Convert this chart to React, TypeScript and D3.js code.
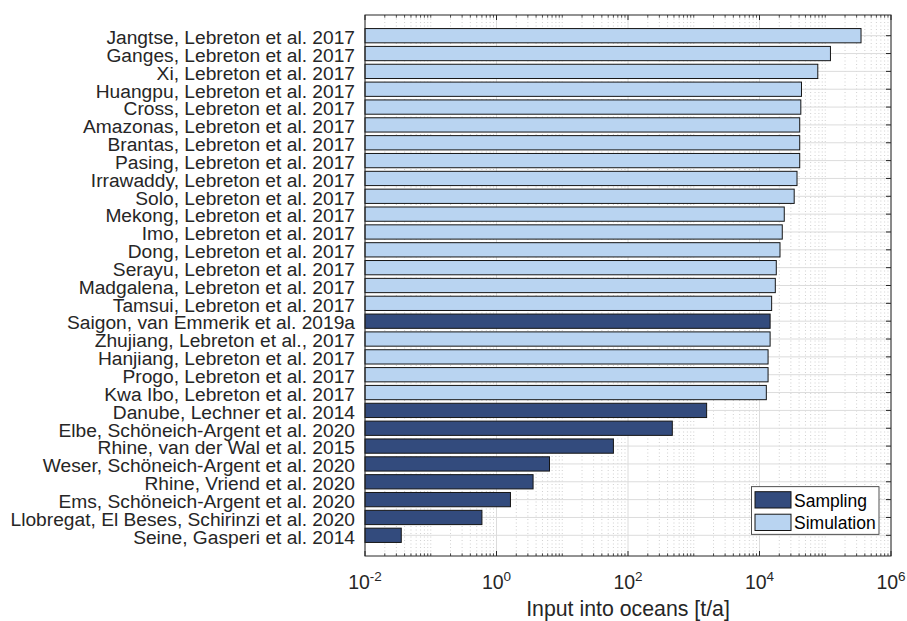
import * as d3 from 'd3';
import React from 'react';

// river / study, top to bottom
const rivers = [
  'Jangtse, Lebreton et al. 2017',
  'Ganges, Lebreton et al. 2017',
  'Xi, Lebreton et al. 2017',
  'Huangpu, Lebreton et al. 2017',
  'Cross, Lebreton et al. 2017',
  'Amazonas, Lebreton et al. 2017',
  'Brantas, Lebreton et al. 2017',
  'Pasing, Lebreton et al. 2017',
  'Irrawaddy, Lebreton et al. 2017',
  'Solo, Lebreton et al. 2017',
  'Mekong, Lebreton et al. 2017',
  'Imo, Lebreton et al. 2017',
  'Dong, Lebreton et al. 2017',
  'Serayu, Lebreton et al. 2017',
  'Madgalena, Lebreton et al. 2017',
  'Tamsui, Lebreton et al. 2017',
  'Saigon, van Emmerik et al. 2019a',
  'Zhujiang, Lebreton et al., 2017',
  'Hanjiang, Lebreton et al. 2017',
  'Progo, Lebreton et al. 2017',
  'Kwa Ibo, Lebreton et al. 2017',
  'Danube, Lechner et al. 2014',
  'Elbe, Schöneich-Argent et al. 2020',
  'Rhine, van der Wal et al. 2015',
  'Weser, Schöneich-Argent et al. 2020',
  'Rhine, Vriend et al. 2020',
  'Ems, Schöneich-Argent et al. 2020',
  'Llobregat, El Beses, Schirinzi et al. 2020',
  'Seine, Gasperi et al. 2014',
];

// input into oceans [t/a]
const inputs = [
  350000, 120000, 77000, 43500, 42500, 40900, 40900, 40900, 37200, 33700,
  23800, 22200, 20500, 18000, 17400, 15300, 14500, 14500, 13500, 13500,
  12700, 1570, 472, 60, 6.4, 3.6, 1.63, 0.6, 0.0356,
];

const methods = [
  'Simulation', 'Simulation', 'Simulation', 'Simulation', 'Simulation',
  'Simulation', 'Simulation', 'Simulation', 'Simulation', 'Simulation',
  'Simulation', 'Simulation', 'Simulation', 'Simulation', 'Simulation',
  'Simulation', 'Sampling', 'Simulation', 'Simulation', 'Simulation',
  'Simulation', 'Sampling', 'Sampling', 'Sampling', 'Sampling',
  'Sampling', 'Sampling', 'Sampling', 'Sampling',
];

const legendItems = ['Sampling', 'Simulation'];
const labelledPowers = [-2, 0, 2, 4, 6];

const W = 907;
const H = 621;
const left = 365;
const right = 891;
const top = 15;
const bottom = 556;

const FONT = '"Liberation Sans", Arial, Helvetica, sans-serif';
const INK = '#262626';
const fills: Record<string, string> = { Sampling: '#334b7d', Simulation: '#b9d4f1' };

export default function App() {
  const x = d3.scaleLog().domain([1e-2, 1e6]).range([left, right]);
  const y = d3
    .scaleBand<string>()
    .domain(rivers)
    .range([top, bottom])
    .paddingInner(0.2)
    .paddingOuter(0.76);
  const bw = y.bandwidth();
  const cy = (name: string) => (y(name) ?? 0) + bw / 2;

  const majors = labelledPowers.map((p) => Math.pow(10, p));
  const minors = d3
    .range(-2, 6)
    .flatMap((p) => d3.range(1, 10).map((k) => k * Math.pow(10, p)))
    .filter((v) => !majors.some((m) => Math.abs(m - v) / m < 1e-9));

  return (
    <svg
      width={W}
      height={H}
      style={{ position: 'absolute', left: 0, top: 0, background: '#fff' }}
      fontFamily={FONT}
    >
      <rect x={0} y={0} width={W} height={H} fill="#fff" />

      {/* grid */}
      {minors.map((v, i) => (
        <line
          key={'mg' + i}
          x1={x(v)}
          x2={x(v)}
          y1={top}
          y2={bottom}
          stroke="#c4c4c4"
          strokeWidth={0.8}
          strokeDasharray="1 2.5"
        />
      ))}
      {majors.map((v, i) => (
        <line key={'g' + i} x1={x(v)} x2={x(v)} y1={top} y2={bottom} stroke="#dcdcdc" strokeWidth={1} />
      ))}
      {rivers.map((r) => (
        <line key={'hg' + r} x1={left} x2={right} y1={cy(r)} y2={cy(r)} stroke="#dcdcdc" strokeWidth={1} />
      ))}

      {/* ticks */}
      {majors.map((v, i) => (
        <g key={'t' + i} stroke={INK} strokeWidth={1}>
          <line x1={x(v)} x2={x(v)} y1={bottom} y2={bottom - 5} />
          <line x1={x(v)} x2={x(v)} y1={top} y2={top + 5} />
        </g>
      ))}
      {minors.map((v, i) => (
        <g key={'mt' + i} stroke={INK} strokeWidth={0.8}>
          <line x1={x(v)} x2={x(v)} y1={bottom} y2={bottom - 2.7} />
          <line x1={x(v)} x2={x(v)} y1={top} y2={top + 2.7} />
        </g>
      ))}
      {rivers.map((r) => (
        <g key={'yt' + r} stroke={INK} strokeWidth={1}>
          <line x1={left} x2={left + 5} y1={cy(r)} y2={cy(r)} />
          <line x1={right} x2={right - 5} y1={cy(r)} y2={cy(r)} />
        </g>
      ))}

      {/* bars */}
      {rivers.map((r, i) => (
        <rect
          key={'b' + r}
          x={x(1e-2)}
          y={y(r)}
          width={x(inputs[i]) - x(1e-2)}
          height={bw}
          fill={fills[methods[i]]}
          stroke="#151515"
          strokeWidth={1}
        />
      ))}

      {/* box */}
      <rect x={left} y={top} width={right - left} height={bottom - top} fill="none" stroke={INK} strokeWidth={1} />

      {/* y labels */}
      {rivers.map((r) => (
        <text key={'l' + r} x={left - 10} y={cy(r) + 8.3} textAnchor="end" fontSize={19.2} fill={INK}>
          {r}
        </text>
      ))}

      {/* x tick labels */}
      {labelledPowers.map((p) => (
        <text key={'xl' + p} x={x(Math.pow(10, p))} y={588.5} textAnchor="middle" fontSize={19.5} fill={INK}>
          10
          <tspan fontSize={13.5} dy={-8}>
            {String(p)}
          </tspan>
        </text>
      ))}

      <text x={(left + right) / 2} y={616} textAnchor="middle" fontSize={21.3} fill={INK}>
        Input into oceans [t/a]
      </text>

      {/* legend */}
      <g>
        <rect x={751.5} y={486.7} width={127.5} height={47.6} fill="#fff" stroke={INK} strokeWidth={0.8} />
        {legendItems.map((m, i) => (
          <g key={'lg' + m}>
            <rect x={755} y={491.7 + i * 22.5} width={36} height={16.3} fill={fills[m]} stroke="#151515" strokeWidth={1} />
            <text x={794} y={506.5 + i * 22.8} fontSize={17.5} fill="#000">
              {m}
            </text>
          </g>
        ))}
      </g>
    </svg>
  );
}
